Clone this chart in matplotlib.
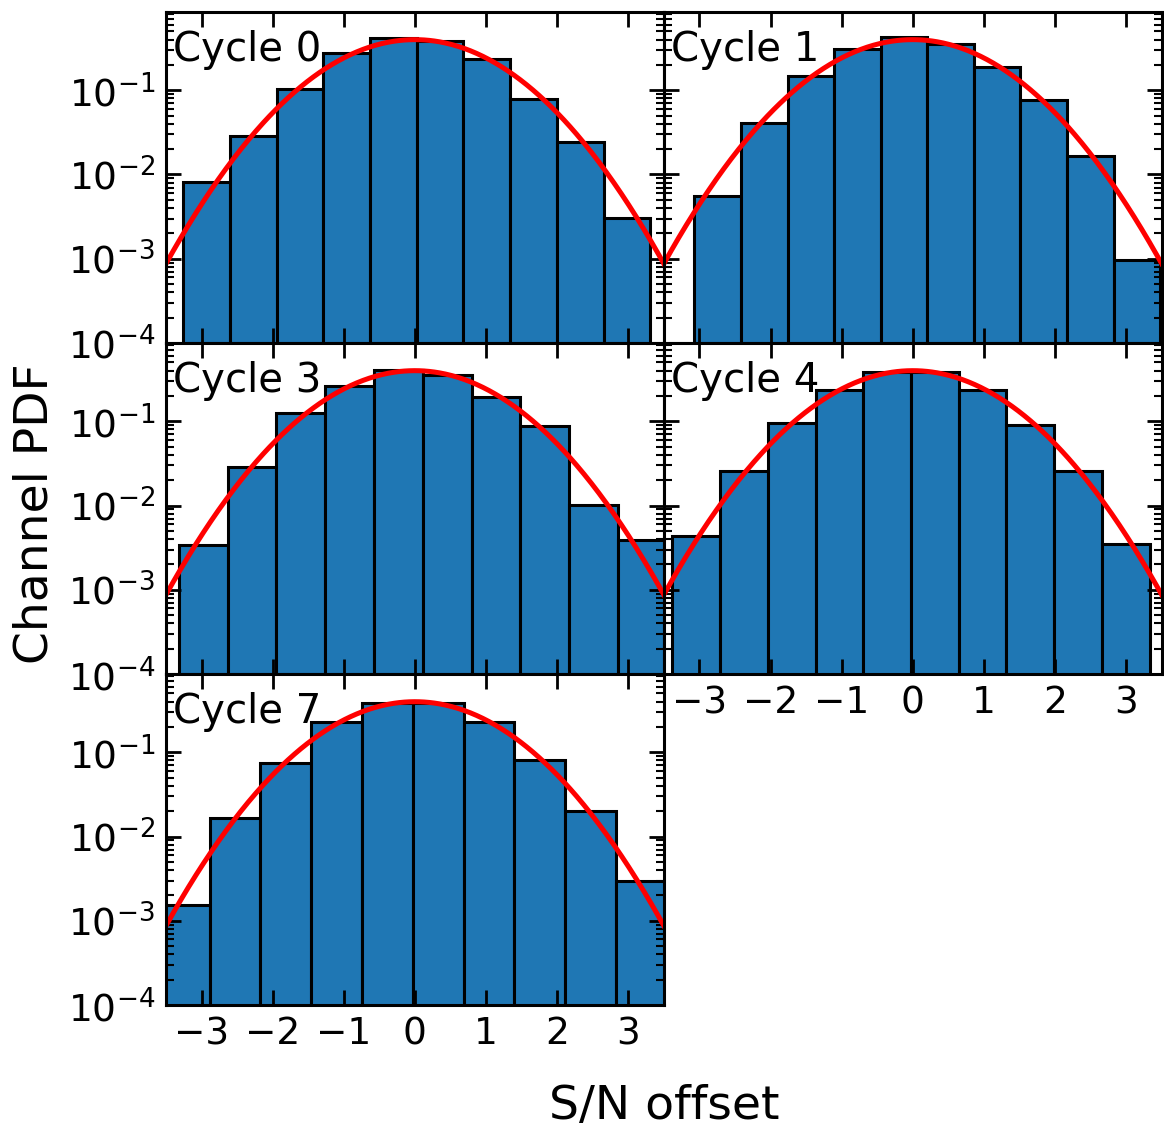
import numpy as np
import matplotlib
matplotlib.use("Agg")
import matplotlib.pyplot as plt

# ---- data ----
cycles = ["Cycle 0", "Cycle 1", "Cycle 3", "Cycle 4", "Cycle 7"]
bin_lo = [-3.26, -3.07, -3.32, -3.38, -3.60]
bin_hi = [3.31, 3.48, 3.54, 3.33, 3.54]
pdf_c0 = [8.2e-3, 0.0288, 0.103, 0.280, 0.414, 0.388, 0.237, 0.078, 0.0246, 3.06e-3]
pdf_c1 = [5.6e-3, 0.0406, 0.148, 0.306, 0.428, 0.351, 0.189, 0.076, 0.0166, 9.7e-4]
pdf_c3 = [3.39e-3, 0.0287, 0.126, 0.265, 0.410, 0.351, 0.194, 0.087, 0.0102, 3.88e-3]
pdf_c4 = [4.4e-3, 0.0260, 0.0955, 0.237, 0.385, 0.385, 0.237, 0.0913, 0.0255, 3.45e-3]
pdf_c7 = [1.55e-3, 0.0166, 0.0747, 0.227, 0.385, 0.385, 0.227, 0.0804, 0.0199, 2.93e-3]
heights = [pdf_c0, pdf_c1, pdf_c3, pdf_c4, pdf_c7]
gauss_mu = 0.0
gauss_sigma = 1.0
xticks = [-3, -2, -1, 0, 1, 2, 3]
ytick_vals = [1e-4, 1e-3, 1e-2, 1e-1]

fig, axes = plt.subplots(3, 2, sharex=True, sharey=True, figsize=(11.64, 11.28), dpi=100)
fig.subplots_adjust(left=0.1426, right=0.998, top=0.9894, bottom=0.109, wspace=0, hspace=0)

flat = [axes[0, 0], axes[0, 1], axes[1, 0], axes[1, 1], axes[2, 0]]
axes[2, 1].remove()

xg = np.linspace(-3.5, 3.5, 400)
yg = np.exp(-0.5 * ((xg - gauss_mu) / gauss_sigma) ** 2) / (gauss_sigma * np.sqrt(2 * np.pi))

for ax, name, lo, hi, h in zip(flat, cycles, bin_lo, bin_hi, heights):
    edges = np.linspace(lo, hi, len(h) + 1)
    ax.bar(edges[:-1], h, width=np.diff(edges), align="edge",
           color="#1f77b4", edgecolor="black", linewidth=2.2)
    ax.plot(xg, yg, color="red", lw=3.6)
    ax.set_yscale("log")
    ax.text(0.015, 0.945, name, transform=ax.transAxes, fontsize=29,
            va="top", ha="left")
    ax.tick_params(which="both", direction="in", top=True, right=True, labelsize=27)
    ax.tick_params(which="major", length=11, width=2, pad=8)
    ax.tick_params(which="minor", length=6, width=1.5)
    for s in ax.spines.values():
        s.set_linewidth(2.2)

ax0 = flat[0]
ax0.set_xlim(-3.5, 3.5)
ax0.set_ylim(1e-4, 0.85)
ax0.set_xticks(xticks)
ax0.set_yticks(ytick_vals)
axes[1, 1].xaxis.set_tick_params(labelbottom=True)

fig.text(0.5704, 0.0195, "S/N offset", ha="center", va="center", fontsize=34)
fig.text(0.030, 0.545, "Channel PDF", ha="center", va="center", rotation=90, fontsize=34)

fig.savefig("out.png", dpi=100)
